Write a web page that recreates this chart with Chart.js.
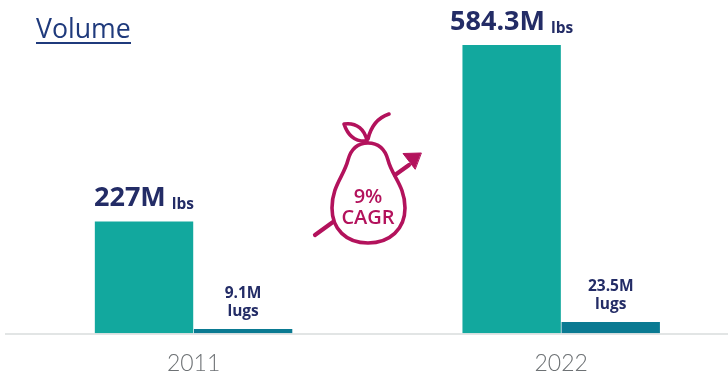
<!DOCTYPE html>
<html>
<head>
<meta charset="utf-8">
<title>Volume</title>
<script src="https://cdn.jsdelivr.net/npm/chart.js@4"></script>
<style>
  html, body { margin: 0; padding: 0; background: #fff; overflow: hidden; width: 728px; height: 372px; }
  canvas { display: block; }
</style>
</head>
<body>
<!-- wider than the window: the plot runs past the right edge on purpose -->
<canvas id="volume" width="745" height="372"></canvas>
<script>
const years = ["2011", "2022"];
const lbsValues = [227, 584.3];
const lugsValues = [9.1, 23.5];
const yMax = 675.5;

const NAVY = "#232c66";
const BERRY = "#b3125c";

function drawPear(ctx) {
  ctx.save();
  ctx.strokeStyle = BERRY;
  ctx.fillStyle = BERRY;
  ctx.lineCap = "round";
  ctx.lineJoin = "round";

  // arrow passing behind the pear
  ctx.lineWidth = 4.2;
  ctx.beginPath();
  ctx.moveTo(315, 235);
  ctx.lineTo(333, 222);
  ctx.moveTo(395, 175);
  ctx.lineTo(409, 165);
  ctx.stroke();
  ctx.lineWidth = 1;
  ctx.beginPath();
  ctx.moveTo(421, 153);
  ctx.lineTo(403, 153.5);
  ctx.lineTo(415, 169);
  ctx.closePath();
  ctx.fill();
  ctx.stroke();

  // body
  ctx.lineWidth = 3.6;
  ctx.beginPath();
  ctx.moveTo(368, 143);
  ctx.bezierCurveTo(378, 143, 385, 149, 388, 160);
  ctx.bezierCurveTo(392, 176, 405, 186, 405, 208);
  ctx.bezierCurveTo(405, 229, 390, 243, 368, 243);
  ctx.bezierCurveTo(346, 243, 332, 229, 332, 208);
  ctx.bezierCurveTo(332, 186, 344, 176, 348, 160);
  ctx.bezierCurveTo(351, 149, 358, 143, 368, 143);
  ctx.stroke();

  // stem and leaf
  ctx.beginPath();
  ctx.moveTo(368, 139);
  ctx.bezierCurveTo(371, 126, 377, 118, 389, 114);
  ctx.moveTo(367, 141);
  ctx.bezierCurveTo(365, 130, 357, 122, 344, 124);
  ctx.bezierCurveTo(348, 136, 356, 142, 367, 141);
  ctx.stroke();

  ctx.font = "600 20px 'Open Sans'";
  ctx.textAlign = "center";
  ctx.textBaseline = "alphabetic";
  ctx.fillText("9%", 368, 203);
  ctx.fillText("CAGR", 368, 224);
  ctx.restore();
}

// baseline, heading, value labels and the growth badge
const annotations = {
  id: "annotations",
  afterDatasetsDraw(chart) {
    const ctx = chart.ctx;
    const zero = chart.scales.y.getPixelForValue(0);

    ctx.save();
    ctx.strokeStyle = "#d8dcdc";
    ctx.lineWidth = 1.5;
    ctx.beginPath();
    ctx.moveTo(5, zero + 0.5);
    ctx.lineTo(728, zero + 0.5);
    ctx.stroke();

    ctx.fillStyle = "#1f3a7c";
    ctx.font = "26.7px 'Open Sans'";
    ctx.textBaseline = "alphabetic";
    ctx.fillText("Volume", 36, 38);
    ctx.fillRect(36, 42, 95, 2);

    ctx.fillStyle = NAVY;
    chart.getDatasetMeta(0).data.forEach((bar, i) => {
      const big = lbsValues[i] + "M";
      ctx.font = "700 27px 'Open Sans'";
      const bigWidth = ctx.measureText(big).width;
      ctx.font = "700 15.5px 'Open Sans'";
      const unitWidth = ctx.measureText("lbs").width;
      const left = bar.x - (bigWidth + 6 + unitWidth) / 2;
      ctx.fillText("lbs", left + bigWidth + 6, bar.y - 12);
      ctx.font = "700 27px 'Open Sans'";
      ctx.fillText(big, left, bar.y - 15);
    });

    ctx.textAlign = "center";
    chart.getDatasetMeta(1).data.forEach((bar, i) => {
      ctx.font = "700 15.5px 'Open Sans'";
      ctx.fillText(lugsValues[i] + "M", bar.x, bar.y - 31);
      ctx.fillText("lugs", bar.x, bar.y - 13);
    });
    ctx.restore();

    drawPear(ctx);
  },
};

document.addEventListener("DOMContentLoaded", function () {
  const data = {
    labels: years,
    datasets: [
      {
        label: "lbs",
        data: lbsValues,
        backgroundColor: "#12a89e",
      },
      {
        label: "lugs",
        data: lugsValues,
        backgroundColor: "#0a7a92",
      },
    ],
  };

  const config = {
    type: "bar",
    data: data,
    options: {
      responsive: false,
      animation: false,
      layout: { padding: { left: 9.75, right: 0, top: 0, bottom: 0 } },
      datasets: {
        bar: { categoryPercentage: 0.539, barPercentage: 0.993 },
      },
      scales: {
        x: {
          grid: { display: false },
          border: { display: false },
          ticks: {
            color: "#6d7174",
            padding: 8,
            maxRotation: 0,
            font: { family: "Lato", size: 23, weight: "300" },
          },
          afterFit(scale) {
            scale.height = 38.5;
          },
        },
        y: { display: false, min: 0, max: yMax },
      },
      plugins: {
        legend: { display: false },
        title: { display: false },
        tooltip: { enabled: false },
      },
    },
    plugins: [annotations],
  };

  new Chart(document.getElementById("volume"), config);
});
</script>
</body>
</html>
